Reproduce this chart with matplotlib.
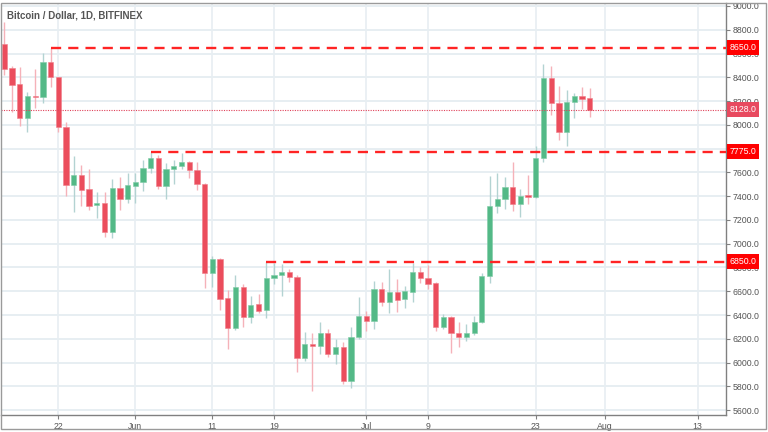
import matplotlib
matplotlib.use("Agg")
import matplotlib.pyplot as plt
import matplotlib.dates as mdates
import matplotlib.transforms as mtransforms
from matplotlib.patches import Rectangle
import pandas as pd
import numpy as np

plt.rcParams['font.family'] = ['Liberation Sans', 'DejaVu Sans']

# ---------------- data ----------------
start_date = "2018-05-15"
opens = [8677, 8475, 8341, 8055, 8245, 8231, 8528, 8400, 7979, 7494, 7578, 7458, 7326, 7340, 7096, 7469, 7376,
         7485, 7522, 7636, 7718, 7488, 7626, 7656, 7687, 7617, 7500, 6754, 6871, 6541, 6294, 6633, 6386, 6490,
         6442, 6710, 6737, 6762, 6717, 6041, 6154, 6142, 6249, 6072, 6134, 5843, 6213,
         6392, 6347, 6619, 6507, 6596, 6532, 6596, 6760, 6709, 6667, 6297, 6381, 6246, 6218, 6246, 6344,
         6728, 7320, 7376, 7477, 7331, 7407, 7395, 7718, 8391, 8181, 7940, 8192, 8242, 8223]
highs = [8862, 8495, 8484, 8279, 8469, 8607, 8650, 8405, 8021, 7738, 7659, 7626, 7432, 7437, 7544, 7559, 7597,
         7592, 7702, 7775, 7746, 7676, 7704, 7760, 7693, 7687, 7508, 6897, 6880, 6611, 6737, 6659, 6563, 6574,
         6850, 6835, 6829, 6785, 6737, 6255, 6246, 6344, 6283, 6196, 6171, 6302, 6549,
         6437, 6686, 6675, 6785, 6701, 6644, 6840, 6802, 6821, 6680, 6406, 6390, 6339, 6322, 6394, 6751,
         7569, 7592, 7564, 7687, 7460, 7578, 7822, 8509, 8495, 8326, 8293, 8270, 8321, 8307]
lows = [8419, 8110, 7993, 7937, 8144, 8181, 8321, 7942, 7404, 7264, 7320, 7283, 7214, 7059, 7045, 7283, 7340,
        7340, 7443, 7597, 7460, 7376, 7500, 7626, 7550, 7452, 6625, 6638, 6442, 6112, 6274, 6302, 6330, 6420,
        6378, 6661, 6563, 6680, 5918, 6013, 5761, 6070, 6045, 5986, 5822, 5789, 6199,
        6268, 6280, 6476, 6420, 6428, 6457, 6512, 6667, 6619, 6266, 6280, 6083, 6134, 6182, 6235, 6330,
        6667, 7256, 7289, 7278, 7227, 7334, 7382, 7690, 8083, 7872, 7822, 8060, 8130, 8068]
closes = [8467, 8335, 8055, 8242, 8231, 8528, 8400, 7979, 7494, 7578, 7454, 7320, 7340, 7096, 7469, 7376, 7491,
          7522, 7637, 7720, 7488, 7626, 7656, 7687, 7617, 7500, 6754, 6871, 6537, 6294, 6633, 6386, 6484, 6434,
          6714, 6737, 6762, 6717, 6041, 6154, 6140, 6249, 6072, 6134, 5843, 6213, 6392,
          6347, 6619, 6507, 6591, 6527, 6600, 6760, 6709, 6661, 6297, 6381, 6246, 6218, 6246, 6344, 6728,
          7320, 7379, 7477, 7331, 7401, 7395, 7723, 8391, 8181, 7940, 8192, 8242, 8220, 8128]

level_values = [8650, 7775, 6850]
level_starts = ["2018-05-21", "2018-06-03", "2018-06-18"]
last_price = 8128

title_text = "Bitcoin / Dollar, 1D, BITFINEX"
xtick_dates = ["2018-05-22", "2018-06-01", "2018-06-11", "2018-06-19", "2018-07-01",
               "2018-07-09", "2018-07-23", "2018-08-01", "2018-08-13"]
xtick_labels = ["22", "Jun", "11", "19", "Jul", "9", "23", "Aug", "13"]
ytick_values = list(range(5600, 9001, 200))

# ---------------- figure ----------------
W, H = 768, 432
fig = plt.figure(figsize=(W / 100, H / 100), dpi=100, facecolor="white")
ax = fig.add_axes([1 / W, (H - 415) / H, 725 / W, (415 - 3) / H])
ax.set_facecolor("white")

dates = pd.date_range(start_date, periods=len(opens), freq="D")
x = mdates.date2num(dates.to_pydatetime())
o = np.array(opens, float)
h = np.array(highs, float)
l = np.array(lows, float)
c = np.array(closes, float)
up = c >= o

green, red = "#53b987", "#eb4d5c"
green_w, red_w = "#b3d3d2", "#f5b2b9"

ref = mdates.date2num(pd.Timestamp("2018-05-22").to_pydatetime())
ax.set_xlim(ref - 7.44, ref + 86.7)
ax.set_ylim(5559, 9025)

# grid
tick_x = mdates.date2num(pd.to_datetime(xtick_dates).to_pydatetime())
for tx in tick_x:
    ax.axvline(tx, color="#e7eef2", lw=1.2, zorder=0)
for ty in ytick_values:
    ax.axhline(ty, color="#e7eef2", lw=1.4, zorder=0)

# wicks
ax.vlines(x[up], l[up], h[up], color=green_w, lw=1.0, zorder=2)
ax.vlines(x[~up], l[~up], h[~up], color=red_w, lw=1.0, zorder=2)
# bodies
bw = 0.68
ax.bar(x[up], np.maximum(c[up] - o[up], 8), bottom=o[up], width=bw, color=green,
       edgecolor="#7fcca6", linewidth=0.4, zorder=3)
ax.bar(x[~up], np.maximum(o[~up] - c[~up], 8), bottom=c[~up], width=bw, color=red,
       edgecolor="#f07f8a", linewidth=0.4, zorder=3)

# current price dotted line
ax.axhline(last_price, color="#e0425a", lw=0.8, ls=(0, (1, 1.2)), zorder=4)

# horizontal levels
xr = ax.get_xlim()[1]
for lv, sd in zip(level_values, level_starts):
    xs = mdates.date2num(pd.Timestamp(sd).to_pydatetime())
    ax.hlines(lv, xs, xr, color="#ff2424", lw=1.7, linestyles=(0, (4.3, 3.0)), zorder=5)

# axes styling
for s in ["left", "top"]:
    ax.spines[s].set_visible(False)
for s in ["right", "bottom"]:
    ax.spines[s].set_color("#808080")
    ax.spines[s].set_linewidth(1.0)

ax.yaxis.tick_right()
ax.set_yticks(ytick_values)
ax.set_yticklabels([f"{v:.1f}" for v in ytick_values])
ax.tick_params(axis="y", which="both", length=3, width=0.8, color="#808080",
               labelsize=6.3, labelcolor="#555555", pad=1.5)
ax.set_xticks(tick_x)
ax.set_xticklabels(xtick_labels)
ax.tick_params(axis="x", length=3, width=0.8, color="#808080",
               labelsize=6.3, labelcolor="#555555", pad=2)

# price boxes
trans = mtransforms.blended_transform_factory(ax.transAxes, ax.transData)
for lv in level_values:
    ax.annotate(f"{lv:.1f}", xy=(1.0, lv), xycoords=trans, xytext=(2.6, 0),
                textcoords="offset points", ha="left", va="center", fontsize=6.3,
                color="white", annotation_clip=False, zorder=10,
                bbox=dict(boxstyle="square,pad=0.32", fc="#ff0000", ec="none"))
ax.annotate(f"{last_price:.1f}", xy=(1.0, last_price), xycoords=trans, xytext=(2.6, 0),
            textcoords="offset points", ha="left", va="center", fontsize=6.3,
            color="white", annotation_clip=False, zorder=10,
            bbox=dict(boxstyle="square,pad=0.32", fc="#e84a5f", ec="none"))

# title
fig.text(7 / W, 1 - 15 / H, title_text, fontsize=7, color="#555555", ha="left", va="center",
         fontweight="bold")

# outer frame
fig.add_artist(Rectangle((0.5 / W, 2.7 / H), 765.5 / W, 426.6 / H, transform=fig.transFigure,
                         fill=False, ec="#9a9a9a", lw=1.0))

fig.savefig("out.png", dpi=100, facecolor="white")
